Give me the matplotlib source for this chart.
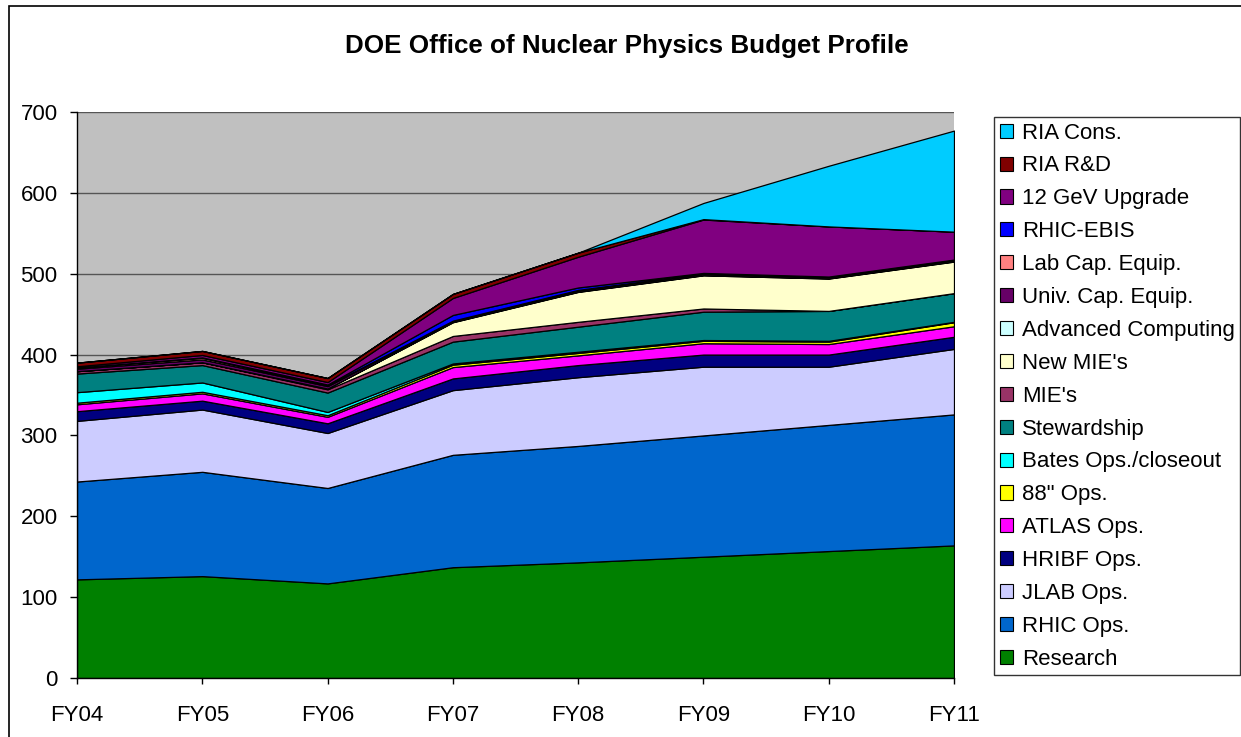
import matplotlib
matplotlib.use("Agg")
import matplotlib.pyplot as plt
from matplotlib.patches import Patch, Rectangle

plt.rcParams['font.family'] = ['Liberation Sans', 'DejaVu Sans']

years = ["FY04", "FY05", "FY06", "FY07", "FY08", "FY09", "FY10", "FY11"]

research      = [122, 126, 117, 137, 143, 150, 157, 164]
rhic_ops      = [121, 129, 118, 139, 144, 150, 156, 162]
jlab_ops      = [75, 77, 68, 80, 85, 85, 72, 81]
hribf_ops     = [12, 11, 12, 14.5, 15, 15, 15, 15]
atlas_ops     = [8.5, 9, 8, 14, 12, 14, 13, 13]
ops_88        = [2, 2, 2, 3, 3, 3, 3, 5]
bates_ops     = [13, 11.5, 4, 1.5, 1.5, 1, 1, 0.5]
stewardship   = [23, 21.5, 24, 27, 31, 35, 37, 35.5]
mies          = [3, 3.5, 4, 7, 6, 4, 0, 0]
new_mies      = [0, 0, 1, 17, 37, 41, 40, 39]
adv_computing = [0, 0, 0, 0.5, 0.5, 0.5, 0.5, 0.5]
univ_cap      = [3, 3.5, 3, 0.5, 0.5, 0.5, 0.5, 0.5]
lab_cap       = [1.5, 2, 1, 1, 1.5, 1.5, 1.5, 1.5]
rhic_ebis     = [0, 0.5, 1, 7, 3, 0.5, 0, 0]
gev12         = [1.5, 3, 3, 21, 38, 66, 62, 34.5]
ria_rd        = [4.5, 5, 5, 5, 5, 0.5, 0, 0]
ria_cons      = [0, 0, 0, 0, 0, 20, 75, 125]

labels = ["Research", "RHIC Ops.", "JLAB Ops.", "HRIBF Ops.", "ATLAS Ops.",
          "88\" Ops.", "Bates Ops./closeout", "Stewardship", "MIE's",
          "New MIE's", "Advanced Computing", "Univ. Cap. Equip.",
          "Lab Cap. Equip.", "RHIC-EBIS", "12 GeV Upgrade", "RIA R&D",
          "RIA Cons."]
series = [research, rhic_ops, jlab_ops, hribf_ops, atlas_ops, ops_88,
          bates_ops, stewardship, mies, new_mies, adv_computing, univ_cap,
          lab_cap, rhic_ebis, gev12, ria_rd, ria_cons]
colors = ["#008000", "#0066CC", "#CCCCFF", "#000080", "#FF00FF", "#FFFF00",
          "#00FFFF", "#008080", "#993366", "#FFFFCC", "#CCFFFF", "#660066",
          "#FF8080", "#0000FF", "#800080", "#800000", "#00CCFF"]

W, H = 1241, 737
fig = plt.figure(figsize=(W / 100, H / 100), dpi=100)
ax = fig.add_axes([77 / W, 1 - 678 / H, (954 - 77) / W, (678 - 112) / H])
ax.set_facecolor("#C0C0C0")

x = list(range(len(years)))
ax.stackplot(x, *series, colors=colors, edgecolor="black", linewidth=0.9)

ax.set_xlim(0, len(years) - 1)
ax.set_ylim(0, 700)
ax.set_yticks(range(0, 701, 100))
ax.set_xticks(x)
ax.set_xticklabels(years)
ax.yaxis.grid(True, color="#555555", linewidth=1.0)
ax.set_axisbelow(True)
for s in ["top", "right"]:
    ax.spines[s].set_visible(False)
for s in ["left", "bottom"]:
    ax.spines[s].set_linewidth(1.0)
ax.tick_params(axis="y", direction="out", length=5, width=1, pad=9, labelsize=16)
ax.tick_params(axis="x", direction="out", length=4.5, width=1, pad=15, labelsize=16)

fig.text(627 / W, 1 - 46 / H, "DOE Office of Nuclear Physics Budget Profile",
         ha="center", va="center", fontsize=18.7, fontweight="bold")

handles = [Patch(facecolor=c, edgecolor="black", linewidth=0.8) for c in colors]
leg = fig.legend(handles[::-1], labels[::-1], loc="upper left",
                 bbox_to_anchor=(994 / W, 1 - 117 / H), fontsize=16,
                 frameon=True, fancybox=False, edgecolor="black",
                 handlelength=0.6, handleheight=0.6, handletextpad=0.4,
                 labelspacing=0.535, borderpad=0.25, borderaxespad=0)
leg.get_frame().set_linewidth(1.0)

fig.patches.append(Rectangle((9 / W, -0.1), 1.2, 1.1 - 6 / H,
                             transform=fig.transFigure, fill=False,
                             edgecolor="black", linewidth=1.2))

fig.savefig("out.png", dpi=100)
